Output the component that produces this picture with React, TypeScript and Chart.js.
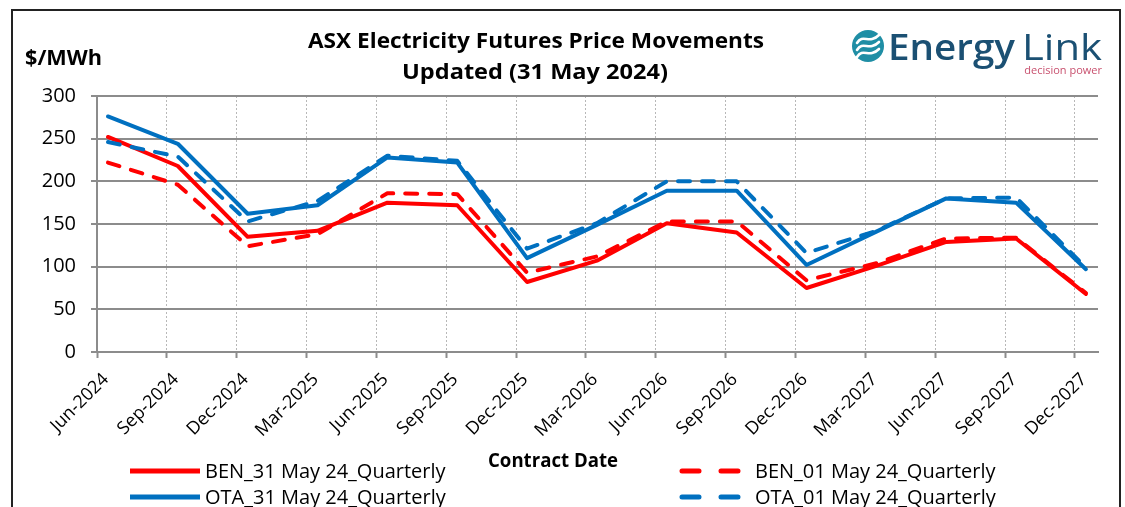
import React, { useEffect, useRef } from "react";
import { Chart, registerables } from "chart.js";

Chart.register(...registerables);

// ---------- data ----------
const categories = [
  "Jun-2024", "Sep-2024", "Dec-2024", "Mar-2025", "Jun-2025", "Sep-2025", "Dec-2025",
  "Mar-2026", "Jun-2026", "Sep-2026", "Dec-2026", "Mar-2027", "Jun-2027", "Sep-2027", "Dec-2027",
];
const ben31May = [252, 218, 135, 142, 175, 172, 82, 107, 151, 140, 75, 101, 129, 133, 68];
const ben01May = [222, 196, 124, 138, 186, 185, 93, 112, 153, 153, 84, 104, 133, 134, 69];
const ota31May = [276, 244, 162, 172, 228, 222, 110, 149, 189, 189, 102, 141, 180, 175, 97];
const ota01May = [246, 229, 153, 177, 230, 224, 121, 151, 200, 200, 116, 142, 180, 181, 99];
const yTicks = [0, 50, 100, 150, 200, 250, 300];
const seriesNames = [
  "BEN_31 May 24_Quarterly",
  "BEN_01 May 24_Quarterly",
  "OTA_31 May 24_Quarterly",
  "OTA_01 May 24_Quarterly",
];
// contract points sit a little after each quarter's tick on the date axis
const POINT_OFFSET = 0.157;

const RED = "#ff0000";
const BLUE = "#0070c0";
const FONT = "'Open Sans', 'DejaVu Sans', sans-serif";

function toPoints(values: number[]) {
  return values.map((v, i) => ({ x: i + POINT_OFFSET, y: v }));
}

function fitText(ctx: CanvasRenderingContext2D, text: string, x: number, y: number, width: number, align: CanvasTextAlign) {
  const w = ctx.measureText(text).width;
  const sx = width / w;
  ctx.save();
  ctx.translate(x, y);
  ctx.scale(sx, 1);
  ctx.textAlign = align;
  ctx.textBaseline = "alphabetic";
  ctx.fillText(text, 0, 0);
  ctx.restore();
}

const decorPlugin = {
  id: "decor",
  afterDraw(chart: any) {
    const ctx: CanvasRenderingContext2D = chart.ctx;
    ctx.save();
    // outer frame
    ctx.strokeStyle = "#222";
    ctx.lineWidth = 2;
    ctx.strokeRect(12, 10, 1108, 520);

    // title
    ctx.fillStyle = "#000";
    ctx.font = `bold 22px ${FONT}`;
    fitText(ctx, "ASX Electricity Futures Price Movements", 536, 48, 456, "center");
    fitText(ctx, "Updated (31 May 2024)", 535, 79, 266, "center");
    // y-axis unit
    fitText(ctx, "$/MWh", 25, 65, 77, "left");
    // x-axis title
    ctx.font = `bold 20px ${FONT}`;
    fitText(ctx, "Contract Date", 553, 467, 130, "center");

    // legend
    const ds = chart.data.datasets;
    ds.forEach((d: any, i: number) => {
      const col = i % 2;
      const row = Math.floor(i / 2);
      const y = 471 + row * 26;
      const x0 = col === 0 ? 130 : 682;
      const x1 = col === 0 ? 200 : 738;
      ctx.save();
      ctx.strokeStyle = d.borderColor;
      ctx.lineWidth = 5;
      ctx.lineCap = d.borderDash && d.borderDash.length ? "round" : "butt";
      ctx.setLineDash(d.borderDash && d.borderDash.length ? [17, 22] : []);
      ctx.beginPath();
      ctx.moveTo(x0, y);
      ctx.lineTo(x1, y);
      ctx.stroke();
      ctx.restore();
      ctx.fillStyle = "#000";
      ctx.font = `20px ${FONT}`;
      ctx.textAlign = "left";
      ctx.textBaseline = "middle";
      ctx.fillText(d.label, col === 0 ? 205 : 755, y + 1);
    });

    // logo
    const cx = 868, cy = 46, r = 16;
    ctx.fillStyle = "#1f8ea5";
    ctx.beginPath();
    ctx.arc(cx, cy, r, 0, Math.PI * 2);
    ctx.fill();
    ctx.strokeStyle = "#ffffff";
    ctx.lineWidth = 2.6;
    ctx.lineCap = "round";
    for (let k = -1; k <= 1; k++) {
      const oy = k * 7;
      ctx.beginPath();
      ctx.moveTo(cx - 11, cy + oy + 4);
      ctx.bezierCurveTo(cx - 5, cy + oy - 6, cx + 1, cy + oy + 6, cx + 11, cy + oy - 4);
      ctx.stroke();
    }
    ctx.fillStyle = "#1b5073";
    ctx.font = `600 36px ${FONT}`;
    fitText(ctx, "Energy", 888, 60, 127, "left");
    ctx.font = `400 36px ${FONT}`;
    fitText(ctx, "Link", 1022, 60, 80, "left");
    ctx.fillStyle = "#c8506e";
    ctx.font = `11px ${FONT}`;
    ctx.textAlign = "right";
    ctx.textBaseline = "alphabetic";
    ctx.fillText("decision power", 1102, 74);
    ctx.restore();
  },
};

export default function App() {
  const ref = useRef<HTMLCanvasElement | null>(null);

  useEffect(() => {
    if (!ref.current) return;
    const solid: number[] = [];
    const dashed = [12, 12];
    const chart = new Chart(ref.current, {
      type: "line",
      data: {
        datasets: [
          { label: seriesNames[0], data: toPoints(ben31May), borderColor: RED, borderDash: solid, order: 4 },
          { label: seriesNames[1], data: toPoints(ben01May), borderColor: RED, borderDash: dashed, order: 3 },
          { label: seriesNames[2], data: toPoints(ota31May), borderColor: BLUE, borderDash: solid, order: 2 },
          { label: seriesNames[3], data: toPoints(ota01May), borderColor: BLUE, borderDash: dashed, order: 1 },
        ].map((d) => ({
          ...d,
          borderWidth: 4,
          pointRadius: 0,
          tension: 0,
          fill: false,
          borderJoinStyle: "round" as const,
          borderCapStyle: "round" as const,
        })),
      },
      options: {
        responsive: false,
        animation: false,
        events: [],
        layout: { padding: { left: 0, top: 96, right: 27, bottom: 0 } },
        plugins: {
          legend: { display: false },
          title: { display: false },
          tooltip: { enabled: false },
        },
        scales: {
          x: {
            type: "linear",
            min: 0,
            max: 14.33,
            afterBuildTicks: (s: any) => {
              s.ticks = categories.map((_, i) => ({ value: i }));
            },
            afterFit: (s: any) => {
              s.height = 155;
            },
            ticks: {
              autoSkip: false,
              maxRotation: 45,
              minRotation: 45,
              padding: 11,
              labelOffset: 9,
              color: "#000",
              font: { family: FONT, size: 18 },
              callback: (v: any) => categories[Math.round(Number(v))] ?? "",
            },
            grid: {
              color: "#b8b8b8",
              lineWidth: 1,
              drawTicks: true,
              tickLength: 6,
              tickColor: "#8c8c8c",
              tickWidth: 2,
            },
            border: { color: "#8c8c8c", width: 2, dash: [2, 2] },
          },
          y: {
            min: 0,
            max: 300,
            afterBuildTicks: (s: any) => {
              s.ticks = yTicks.map((v) => ({ value: v }));
            },
            afterFit: (s: any) => {
              s.width = 97;
            },
            ticks: {
              padding: 15,
              color: "#000",
              font: { family: FONT, size: 20 },
            },
            grid: {
              color: "#8c8c8c",
              lineWidth: 2,
              drawTicks: true,
              tickLength: 6,
              tickColor: "#8c8c8c",
            },
            border: { color: "#8c8c8c", width: 2 },
          },
        },
      },
      plugins: [decorPlugin],
    } as any);
    return () => chart.destroy();
  }, []);

  return (
    <div style={{ position: "fixed", left: 0, top: 0, width: 1125, height: 507, background: "#fff" }}>
      <canvas ref={ref} width={1125} height={507} style={{ width: 1125, height: 507, display: "block" }} />
    </div>
  );
}
